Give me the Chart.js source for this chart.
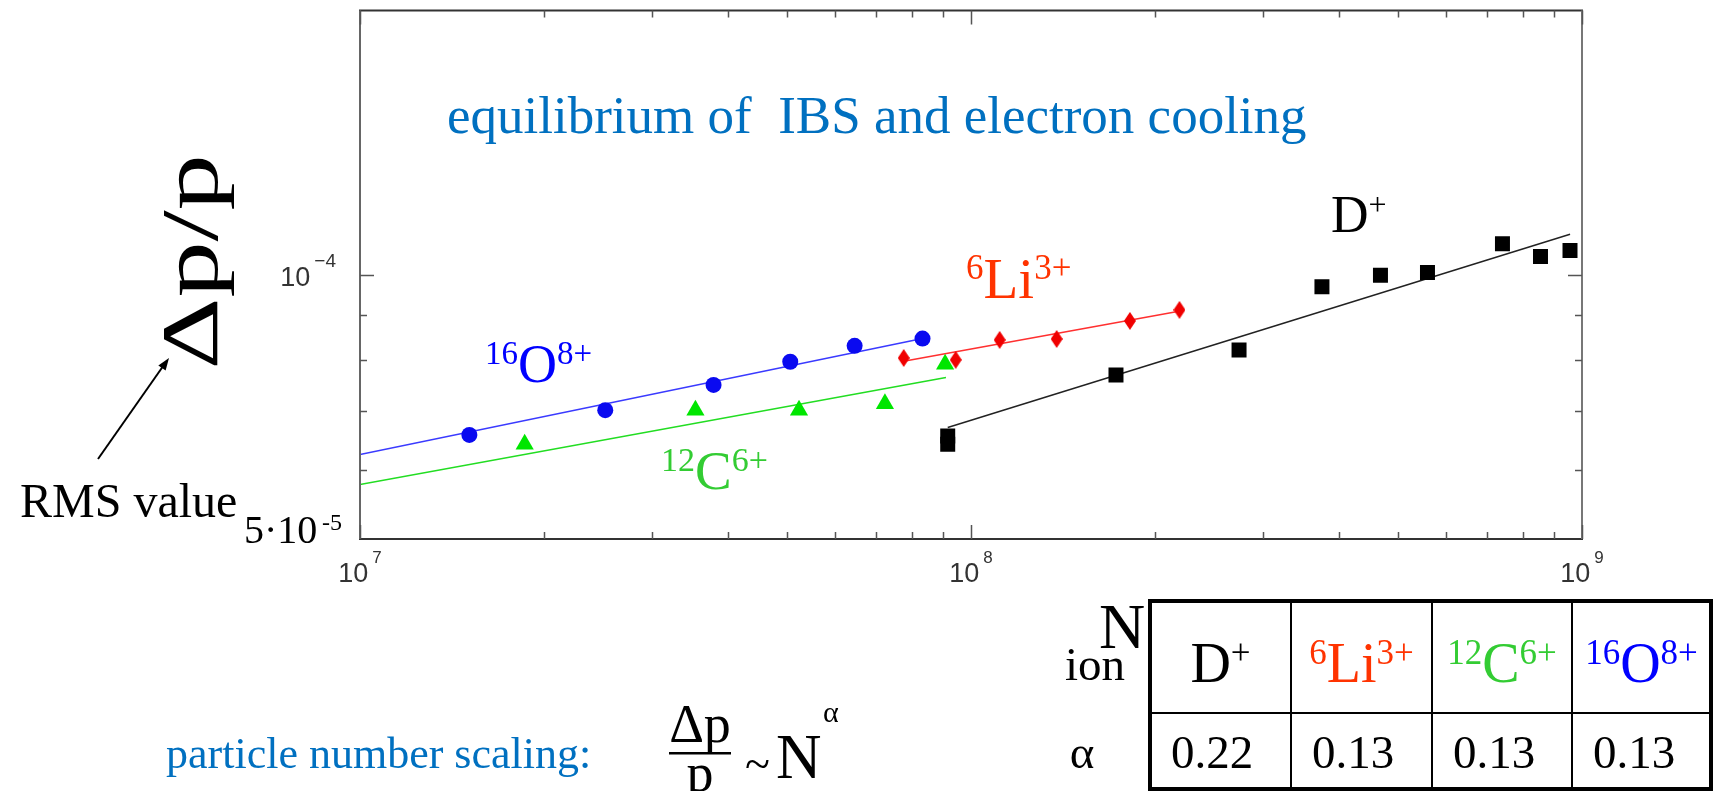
<!DOCTYPE html>
<html>
<head>
<meta charset="utf-8">
<script src="https://cdn.jsdelivr.net/npm/chart.js@4.4.1/dist/chart.umd.min.js"></script>
<style>
  html, body { margin: 0; padding: 0; background: #fff; }
  #wrap { position: relative; width: 1713px; height: 791px; }
</style>
</head>
<body>
<div id="wrap"><canvas id="ibsChart" width="1713" height="791"></canvas></div>
<script>
// measured equilibrium momentum spread vs. stored particle number
const oxygenN = [1.51e7, 2.52e7, 3.79e7, 5.06e7, 6.45e7, 8.33e7];
const oxygenDp = [6.57e-5, 7.01e-5, 7.49e-5, 7.96e-5, 8.30e-5, 8.46e-5];

const carbonN = [1.86e7, 3.54e7, 5.23e7, 7.23e7, 9.07e7];
const carbonDp = [6.41e-5, 7.01e-5, 7.01e-5, 7.13e-5, 7.91e-5];

const lithiumN = [7.76e7, 9.44e7, 1.114e8, 1.381e8, 1.82e8, 2.194e8];
const lithiumDp = [8.04e-5, 8.00e-5, 8.43e-5, 8.45e-5, 8.86e-5, 9.12e-5];

const deuteronN = [9.16e7, 9.16e7, 1.727e8, 2.746e8, 3.753e8, 4.679e8, 5.586e8, 7.41e8, 8.552e8, 9.558e8];
const deuteronDp = [6.55e-5, 6.41e-5, 7.69e-5, 8.21e-5, 9.69e-5, 9.99e-5, 1.006e-4, 1.085e-4, 1.049e-4, 1.066e-4];

// power-law fit lines (end points)
const oxygenFitN = [1e7, 8.33e7];
const oxygenFitDp = [6.24e-5, 8.46e-5];
const carbonFitN = [1e7, 9.1e7];
const carbonFitDp = [5.77e-5, 7.64e-5];
const lithiumFitN = [7.76e7, 2.19e8];
const lithiumFitDp = [7.97e-5, 9.09e-5];
const deuteronFitN = [9.16e7, 9.56e8];
const deuteronFitDp = [6.70e-5, 1.112e-4];

// axis ticks
const xMajorTicks = [1e7, 1e8, 1e9];
const xTickExponents = ['7', '8', '9'];
const xMinorMultipliers = [2, 3, 4, 5, 6, 7, 8, 9];
const yMajorTicks = [1e-4];
const yTickExponents = ['\u22124'];
const yMinorTicks = [6e-5, 7e-5, 8e-5, 9e-5];

// scaling exponents table
const tableIons = [
  { parts: [['D', 0], ['+', 1]], color: '#000000' },
  { parts: [['6', 1], ['Li', 0], ['3+', 1]], color: '#ff3300' },
  { parts: [['12', 1], ['C', 0], ['6+', 1]], color: '#33cc33' },
  { parts: [['16', 1], ['O', 0], ['8+', 1]], color: '#0000ff' }
];
const tableAlpha = ['0.22', '0.13', '0.13', '0.13'];

const SERIF = '"Liberation Serif", "Times New Roman", serif';
const SANS = '"Liberation Sans", Arial, sans-serif';

function pts(xs, ys) {
  return xs.map((x, i) => ({ x: x, y: ys[i] }));
}

// narrow diamond marker for the Li data
function diamondMarker(w, h, color) {
  const c = document.createElement('canvas');
  c.width = w; c.height = h;
  const g = c.getContext('2d');
  g.fillStyle = color;
  g.beginPath();
  g.moveTo(w / 2, 0); g.lineTo(w, h / 2); g.lineTo(w / 2, h); g.lineTo(0, h / 2);
  g.closePath(); g.fill();
  return c;
}

// text with superscripts: parts = [[text, isSup], ...]
function drawRich(ctx, parts, x, y, base, color, align) {
  const sup = Math.round(base * 0.62);
  const rise = base * 0.33;
  let total = 0;
  const widths = parts.map(([t, s]) => {
    ctx.font = (s ? sup : base) + 'px ' + SERIF;
    const w = ctx.measureText(t).width;
    total += w;
    return w;
  });
  let cx = align === 'center' ? x - total / 2 : x;
  ctx.fillStyle = color;
  ctx.textAlign = 'left';
  ctx.textBaseline = 'alphabetic';
  parts.forEach(([t, s], i) => {
    ctx.font = (s ? sup : base) + 'px ' + SERIF;
    ctx.fillText(t, cx, s ? y - rise : y);
    cx += widths[i];
  });
}

const plotDecor = {
  id: 'plotDecor',
  afterDraw(chart) {
    const ctx = chart.ctx;
    const { left, right, top, bottom } = chart.chartArea;
    const xs = chart.scales.x, ys = chart.scales.y;
    ctx.save();

    // frame
    ctx.lineWidth = 2;
    ctx.strokeStyle = '#333';
    ctx.beginPath(); ctx.moveTo(left - 1, top); ctx.lineTo(right + 1, top); ctx.stroke();
    ctx.beginPath(); ctx.moveTo(left - 1, bottom); ctx.lineTo(right + 1, bottom); ctx.stroke();
    ctx.strokeStyle = '#666';
    ctx.beginPath(); ctx.moveTo(left, top); ctx.lineTo(left, bottom); ctx.stroke();
    ctx.strokeStyle = '#777';
    ctx.beginPath(); ctx.moveTo(right, top); ctx.lineTo(right, bottom); ctx.stroke();

    // ticks, pointing inwards on all four sides
    ctx.strokeStyle = '#555';
    ctx.lineWidth = 1.5;
    const xTick = (v, len) => {
      const px = Math.round(xs.getPixelForValue(v)) + 0.5;
      ctx.beginPath();
      ctx.moveTo(px, bottom); ctx.lineTo(px, bottom - len);
      ctx.moveTo(px, top); ctx.lineTo(px, top + len);
      ctx.stroke();
    };
    const yTick = (v, len) => {
      const py = Math.round(ys.getPixelForValue(v)) + 0.5;
      ctx.beginPath();
      ctx.moveTo(left, py); ctx.lineTo(left + len, py);
      ctx.moveTo(right, py); ctx.lineTo(right - len, py);
      ctx.stroke();
    };
    xMajorTicks.forEach((d, i) => {
      xTick(d, 14);
      if (i < xMajorTicks.length - 1) xMinorMultipliers.forEach(m => xTick(d * m, 7));
    });
    yMajorTicks.forEach(v => yTick(v, 14));
    yMinorTicks.forEach(v => yTick(v, 7));

    // tick labels: 10 with exponent
    ctx.fillStyle = '#333';
    ctx.textBaseline = 'alphabetic';
    xMajorTicks.forEach((v, i) => {
      ctx.font = '27px ' + SANS;
      const wb = ctx.measureText('10').width;
      ctx.font = '17px ' + SANS;
      const we = ctx.measureText(xTickExponents[i]).width;
      const x0 = xs.getPixelForValue(v) - (wb + 4 + we) / 2;
      ctx.textAlign = 'left';
      ctx.font = '27px ' + SANS;
      ctx.fillText('10', x0, 582);
      ctx.font = '17px ' + SANS;
      ctx.fillText(xTickExponents[i], x0 + wb + 4, 563);
    });
    yMajorTicks.forEach((v, i) => {
      const py = ys.getPixelForValue(v);
      ctx.font = '19px ' + SANS;
      const we = ctx.measureText(yTickExponents[i]).width;
      const xr = left - 24;
      ctx.textAlign = 'left';
      ctx.fillText(yTickExponents[i], xr - we, py - 8);
      ctx.font = '27px ' + SANS;
      ctx.textAlign = 'right';
      ctx.fillText('10', xr - we - 4, py + 11);
    });

    // bottom tick value written by hand
    ctx.fillStyle = '#000';
    ctx.textAlign = 'left';
    ctx.font = '40px ' + SERIF;
    ctx.fillText('5\u00b710', 244, 543);
    ctx.font = '24px ' + SERIF;
    ctx.fillText('-5', 322, 530);

    // axis titles
    ctx.save();
    ctx.translate(217, 262);
    ctx.rotate(-Math.PI / 2);
    ctx.scale(1.4, 1);
    ctx.font = '80px ' + SERIF;
    ctx.textAlign = 'center';
    ctx.fillText('\u0394p/p', 0, 0);
    ctx.restore();

    ctx.font = '64px ' + SERIF;
    ctx.textAlign = 'center';
    ctx.fillText('N', 1122, 648);

    // RMS note with arrow
    ctx.textAlign = 'left';
    ctx.font = '48px ' + SERIF;
    ctx.fillText('RMS value', 20, 517);
    ctx.strokeStyle = '#000';
    ctx.lineWidth = 2;
    ctx.beginPath(); ctx.moveTo(98, 459); ctx.lineTo(166, 362); ctx.stroke();
    const ang = Math.atan2(358 - 459, 169 - 98);
    ctx.beginPath();
    ctx.moveTo(169, 358);
    ctx.lineTo(169 - 13 * Math.cos(ang - 0.35), 358 - 13 * Math.sin(ang - 0.35));
    ctx.lineTo(169 - 13 * Math.cos(ang + 0.35), 358 - 13 * Math.sin(ang + 0.35));
    ctx.closePath(); ctx.fill();

    // title inside the plot
    ctx.fillStyle = '#0070c0';
    ctx.font = '53px ' + SERIF;
    ctx.fillText('equilibrium of  IBS and electron cooling', 447, 133);

    // series labels
    drawRich(ctx, [['16', 1], ['O', 0], ['8+', 1]], 485, 382, 54, '#0000ff');
    drawRich(ctx, [['12', 1], ['C', 0], ['6+', 1]], 661, 489, 55, '#33cc33');
    drawRich(ctx, [['6', 1], ['Li', 0], ['3+', 1]], 966, 298, 57, '#ff3300');
    drawRich(ctx, [['D', 0], ['+', 1]], 1331, 232, 52, '#000000');

    // scaling law
    ctx.fillStyle = '#0070c0';
    ctx.font = '44px ' + SERIF;
    ctx.textAlign = 'left';
    ctx.fillText('particle number scaling:', 166, 768);
    ctx.fillStyle = '#000';
    ctx.font = '54px ' + SERIF;
    ctx.textAlign = 'center';
    ctx.fillText('\u0394p', 700, 742);
    ctx.fillText('p', 700, 791);
    ctx.fillRect(669, 752, 62, 2.5);
    ctx.textAlign = 'left';
    ctx.font = '46px ' + SERIF;
    ctx.fillText('~', 745, 779);
    ctx.font = '63px ' + SERIF;
    ctx.fillText('N', 776, 778);
    ctx.font = '30px ' + SERIF;
    ctx.fillText('\u03b1', 823, 722);

    // exponent table
    const colX = [1150, 1291, 1432, 1572, 1711];
    const rowY = [601, 713, 789];
    ctx.strokeStyle = '#000';
    ctx.lineWidth = 2;
    for (let i = 1; i < colX.length - 1; i++) {
      ctx.beginPath(); ctx.moveTo(colX[i], rowY[0]); ctx.lineTo(colX[i], rowY[2]); ctx.stroke();
    }
    ctx.beginPath(); ctx.moveTo(colX[0], rowY[1]); ctx.lineTo(colX[4], rowY[1]); ctx.stroke();
    ctx.lineWidth = 4;
    ctx.strokeRect(colX[0], rowY[0], colX[4] - colX[0], rowY[2] - rowY[0]);

    ctx.fillStyle = '#000';
    ctx.font = '47px ' + SERIF;
    ctx.textAlign = 'center';
    ctx.fillText('ion', 1095, 680);
    ctx.fillText('\u03b1', 1082, 768);
    tableIons.forEach((ion, i) => {
      drawRich(ctx, ion.parts, (colX[i] + colX[i + 1]) / 2, 682, 56, ion.color, 'center');
    });
    ctx.fillStyle = '#000';
    ctx.font = '47px ' + SERIF;
    ctx.textAlign = 'left';
    tableAlpha.forEach((a, i) => ctx.fillText(a, colX[i] + 21, 768));

    ctx.restore();
  }
};

const fitLine = (xs, ys, color) => ({
  type: 'line',
  data: pts(xs, ys),
  showLine: true,
  borderColor: color,
  borderWidth: 1.5,
  pointRadius: 0,
  fill: false,
  order: 2
});

new Chart(document.getElementById('ibsChart'), {
  type: 'scatter',
  data: {
    datasets: [
      fitLine(oxygenFitN, oxygenFitDp, '#3a3aff'),
      fitLine(carbonFitN, carbonFitDp, '#22dd22'),
      fitLine(lithiumFitN, lithiumFitDp, '#ff3030'),
      fitLine(deuteronFitN, deuteronFitDp, '#222222'),
      {
        label: '16O8+', data: pts(oxygenN, oxygenDp), order: 1,
        pointStyle: 'circle', pointRadius: 8, backgroundColor: '#0a0af0', borderWidth: 0
      },
      {
        label: '12C6+', data: pts(carbonN, carbonDp), order: 1,
        pointStyle: 'triangle', pointRadius: 10.5, backgroundColor: '#00e600', borderWidth: 0
      },
      {
        label: '6Li3+', data: pts(lithiumN, lithiumDp), order: 1,
        pointStyle: diamondMarker(12, 18, '#f00000'), pointRadius: 9
      },
      {
        label: 'D+', data: pts(deuteronN, deuteronDp), order: 1,
        pointStyle: 'rect', pointRadius: 10.6, backgroundColor: '#000000', borderWidth: 0
      }
    ]
  },
  options: {
    responsive: false,
    animation: false,
    devicePixelRatio: 1,
    layout: { padding: { left: 360, right: 131, top: 9, bottom: 252 } },
    plugins: { legend: { display: false }, tooltip: { enabled: false } },
    scales: {
      x: { type: 'logarithmic', min: 1e7, max: 1e9, display: false },
      y: { type: 'logarithmic', min: 5e-5, max: 2e-4, display: false }
    }
  },
  plugins: [plotDecor]
});
</script>
</body>
</html>
